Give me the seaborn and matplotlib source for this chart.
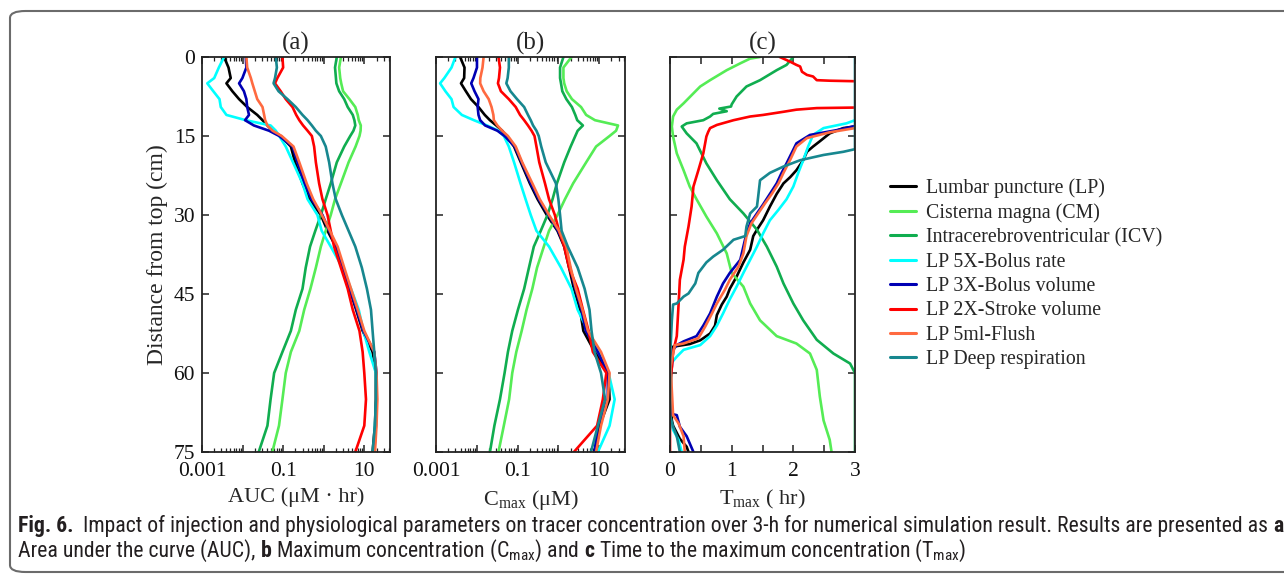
import numpy as np
import pandas as pd
import matplotlib
matplotlib.use("Agg")
import matplotlib.pyplot as plt
import matplotlib.ticker as mticker
from matplotlib.lines import Line2D
from matplotlib.patches import FancyBboxPatch
from matplotlib import font_manager
import seaborn as sns

# ---------------- data ----------------
series_names = ["Lumbar puncture (LP)", "Cisterna magna (CM)", "Intracerebroventricular (ICV)",
                "LP 5X-Bolus rate", "LP 3X-Bolus volume", "LP 2X-Stroke volume",
                "LP 5ml-Flush", "LP Deep respiration"]
series_colors = ["#000000", "#55ec55", "#10ad4f", "#00ffff", "#0000b4", "#ff0000", "#ff6a40", "#17878f"]

depth_ab = [0, 2, 4, 5, 6.5, 8, 9.5, 11, 12, 13, 14, 15, 17, 20, 24, 27, 30, 33, 36, 40, 44, 48, 52, 56, 60, 65, 70, 75]

auc_lp = [0.0035, 0.0045, 0.0051, 0.004, 0.0056, 0.0082, 0.013, 0.023, 0.031, 0.041, 0.055, 0.087, 0.155, 0.197, 0.30, 0.44, 0.85, 1.24, 1.98, 2.9, 4.3, 6.3, 9.1, 16, 19.3, 19.3, 18.3, 16]
auc_cm = [2.65, 2.4, 2.55, 2.7, 3.0, 4.3, 6.0, 6.9, 7.3, 8.2, 8.1, 7.6, 6.1, 4.1, 2.65, 1.9, 1.49, 1.12, 0.85, 0.64, 0.47, 0.33, 0.25, 0.155, 0.116, 0.096, 0.079, 0.054]
auc_icv = [2.1, 1.9, 2.0, 2.05, 2.4, 3.2, 3.9, 5.2, 5.7, 6.0, 5.4, 4.5, 3.2, 2.1, 1.49, 1.12, 0.85, 0.62, 0.46, 0.36, 0.30, 0.205, 0.155, 0.096, 0.06, 0.049, 0.041, 0.025]
auc_5x = [0.0035, 0.0026, 0.002, 0.00135, 0.0019, 0.0027, 0.0029, 0.004, 0.012, 0.049, 0.066, 0.08, 0.116, 0.175, 0.30, 0.40, 0.70, 0.89, 1.49, 2.9, 4.7, 7.3, 9.5, 13.3, 19.3, 20, 18.3, 17.6]
auc_3x = [0.012, 0.0124, 0.0099, 0.0082, 0.0108, 0.0124, 0.013, 0.0144, 0.0115, 0.019, 0.045, 0.08, 0.17, 0.226, 0.34, 0.5, 0.93, 1.36, 2.05, 3.0, 4.4, 6.5, 9.5, 17.6, 20, 20, 19.3, 17.6]
auc_2x = [0.096, 0.1, 0.072, 0.063, 0.087, 0.116, 0.17, 0.21, 0.25, 0.31, 0.40, 0.51, 0.58, 0.64, 0.77, 0.93, 1.24, 1.49, 1.80, 2.65, 3.9, 5.2, 7.6, 9.1, 10, 11, 10, 6.0]
auc_flush = [0.0124, 0.013, 0.016, 0.0174, 0.02, 0.023, 0.031, 0.034, 0.036, 0.041, 0.055, 0.092, 0.18, 0.25, 0.38, 0.55, 0.9, 1.42, 2.2, 3.2, 4.7, 6.9, 10, 17.6, 20, 21, 20, 18.3]
auc_deep = [0.066, 0.07, 0.063, 0.058, 0.077, 0.128, 0.205, 0.30, 0.40, 0.51, 0.64, 0.85, 1.12, 1.36, 1.64, 1.98, 2.8, 4.1, 6.0, 8.7, 11.6, 14.6, 16, 17.6, 19.3, 19.3, 18.3, 16]

cmax_lp = [0.0039, 0.005, 0.0049, 0.0041, 0.0054, 0.0072, 0.011, 0.0157, 0.021, 0.030, 0.042, 0.053, 0.082, 0.12, 0.2, 0.31, 0.52, 0.95, 1.39, 1.83, 2.4, 3.4, 4.1, 7.8, 17, 18, 10.2, 7.7]
cmax_cm = [2.1, 1.33, 1.33, 1.39, 1.6, 2.15, 3.6, 4.8, 7.9, 29, 26, 18, 8.4, 4.8, 2.3, 1.45, 0.95, 0.59, 0.44, 0.3, 0.23, 0.166, 0.126, 0.093, 0.074, 0.062, 0.046, 0.034]
cmax_icv = [1.33, 1.1, 1.1, 1.16, 1.25, 1.57, 2.15, 2.6, 2.9, 4.0, 2.97, 2.6, 2.0, 1.39, 0.92, 0.72, 0.54, 0.37, 0.25, 0.19, 0.145, 0.102, 0.074, 0.058, 0.048, 0.037, 0.027, 0.021]
cmax_5x = [0.003, 0.0024, 0.0016, 0.00126, 0.0017, 0.0024, 0.0027, 0.0043, 0.0085, 0.0178, 0.034, 0.046, 0.061, 0.082, 0.118, 0.157, 0.21, 0.29, 0.59, 1.16, 2.1, 2.97, 5.3, 9.7, 17, 24, 18, 9.3]
cmax_3x = [0.0101, 0.0101, 0.0083, 0.0073, 0.0088, 0.011, 0.0105, 0.011, 0.0121, 0.016, 0.032, 0.048, 0.085, 0.126, 0.21, 0.33, 0.57, 0.98, 1.46, 1.94, 2.6, 3.7, 4.7, 9.3, 16.3, 16.3, 9.3, 7.7]
cmax_2x = [0.034, 0.037, 0.035, 0.033, 0.039, 0.061, 0.09, 0.115, 0.145, 0.18, 0.22, 0.26, 0.29, 0.34, 0.47, 0.59, 0.82, 1.04, 1.39, 1.83, 2.97, 4.0, 5.5, 7.0, 15, 12.3, 8.9, 2.4]
cmax_flush = [0.0147, 0.0138, 0.0122, 0.0121, 0.0147, 0.0196, 0.023, 0.0255, 0.0262, 0.032, 0.042, 0.058, 0.09, 0.13, 0.23, 0.35, 0.59, 1.04, 1.57, 2.0, 2.7, 3.9, 5.3, 11.1, 18, 16.3, 11.1, 8.4]
cmax_deep = [0.061, 0.061, 0.057, 0.053, 0.067, 0.097, 0.145, 0.18, 0.21, 0.24, 0.29, 0.33, 0.38, 0.49, 0.87, 1.0, 1.1, 1.2, 1.7, 2.97, 4.4, 5.8, 6.5, 7.7, 11.1, 14, 9.3, 6.3]

# Tmax: each series has its own depth samples (curves leave the 0-3 h window)
tmax_lp_depth = [13.2, 13.5, 14.5, 16, 17, 18, 19.6, 21.5, 22.8, 24, 26, 28.4, 31, 32.8, 34, 36.6, 39, 41.7, 44, 45.5, 47, 49, 51, 52.5, 53.8, 54.5, 55, 58, 65, 69, 70, 72.5, 74, 75]
tmax_lp = [3.0, 2.81, 2.59, 2.43, 2.32, 2.22, 2.16, 2.05, 1.95, 1.84, 1.73, 1.62, 1.51, 1.41, 1.35, 1.30, 1.19, 1.08, 0.97, 0.92, 0.84, 0.76, 0.73, 0.65, 0.49, 0.32, 0.05, 0.02, 0.01, 0.03, 0.05, 0.16, 0.27, 0.30]
tmax_cm_depth = [0, 0.3, 1.2, 2.5, 4.4, 5.6, 6.9, 8.8, 10, 11.3, 13.2, 15.1, 18.3, 21.5, 24.6, 27, 30.3, 33.5, 37.3, 41, 43.6, 46.8, 50, 53, 54.4, 56.3, 59.4, 64.5, 69, 72.7, 75]
tmax_cm = [1.46, 1.30, 1.14, 0.92, 0.65, 0.49, 0.38, 0.22, 0.11, 0.05, 0.03, 0.05, 0.11, 0.22, 0.32, 0.43, 0.59, 0.76, 0.92, 1.0, 1.19, 1.30, 1.46, 1.73, 2.05, 2.27, 2.38, 2.43, 2.49, 2.59, 2.62]
tmax_icv_depth = [0, 1.5, 2.5, 4.4, 5.6, 7.5, 9, 9.4, 9.8, 10.3, 10.8, 11.3, 12, 12.6, 13.2, 14.5, 16.4, 20.2, 23.4, 27, 29.7, 32.8, 36, 39.8, 43, 46.8, 50, 53.7, 56.3, 58.2, 60, 75]
tmax_icv = [2.0, 1.89, 1.73, 1.46, 1.24, 1.08, 1.0, 0.99, 0.80, 0.92, 0.70, 0.65, 0.54, 0.27, 0.19, 0.27, 0.43, 0.59, 0.76, 0.97, 1.19, 1.41, 1.57, 1.73, 1.84, 2.0, 2.16, 2.38, 2.65, 2.92, 3.0, 3.0]
tmax_5x_depth = [12, 12.6, 13.5, 14.8, 17, 19.6, 22, 24.6, 27, 29, 31, 33.5, 36, 38.5, 41, 43.6, 46, 48.7, 51, 53, 54.7, 55.6, 56.9, 58, 59.4, 69, 70.8, 72.7, 75]
tmax_5x = [3.0, 2.86, 2.49, 2.32, 2.24, 2.16, 2.08, 2.0, 1.89, 1.76, 1.62, 1.51, 1.41, 1.30, 1.19, 1.08, 0.97, 0.86, 0.76, 0.65, 0.49, 0.22, 0.11, 0.03, 0.0, 0.0, 0.05, 0.14, 0.19]
tmax_3x_depth = [13.1, 13.9, 14.8, 16.4, 18.3, 20.2, 22, 24, 26, 28, 29.7, 31.6, 33.5, 36, 38.5, 41, 43, 45.5, 48.7, 51, 53, 54, 54.7, 55.6, 58.8, 61.3, 67.7, 68, 70.2, 72, 75]
tmax_3x = [3.0, 2.70, 2.27, 2.05, 1.97, 1.89, 1.81, 1.73, 1.62, 1.51, 1.41, 1.30, 1.24, 1.19, 1.14, 0.97, 0.86, 0.76, 0.65, 0.54, 0.43, 0.22, 0.11, 0.05, 0.03, 0.0, 0.0, 0.11, 0.16, 0.27, 0.38]
tmax_2x_depth = [0, 0.9, 1.5, 1.8, 2.8, 3.4, 3.7, 4.4, 4.5, 4.6,
                 9.6, 9.7, 10, 10.4, 11, 11.3, 12, 12.9, 13.5, 14.2, 15.1, 18.3, 21.5, 24.6, 28.4, 32.2, 36, 38.5, 42.3, 46.8, 53, 56, 59, 62, 75]
tmax_2x = [1.78, 1.95, 2.05, 2.11, 2.14, 2.22, 2.32, 2.38, 2.59, 3.0,
           3.0, 2.38, 2.05, 1.84, 1.51, 1.30, 1.03, 0.76, 0.65, 0.62, 0.59, 0.54, 0.46, 0.38, 0.35, 0.30, 0.24, 0.22, 0.16, 0.14, 0.11, 0.05, 0.03, 0.0, 0.0]
tmax_2x_segment = [0] * 10 + [1] * 25
tmax_flush_depth = [13.5, 14.3, 15.4, 17, 19.5, 22, 24, 26, 27.8, 29.7, 31.6, 34, 37.3, 39.8, 42.3, 44.2, 46.8, 48.7, 51.2, 53.4, 54.4, 54.7, 56.3, 58.8, 68, 69.6, 72, 75]
tmax_flush = [3.0, 2.59, 2.22, 2.05, 1.95, 1.84, 1.76, 1.65, 1.54, 1.43, 1.32, 1.24, 1.19, 1.11, 0.97, 0.89, 0.76, 0.68, 0.57, 0.46, 0.22, 0.08, 0.05, 0.01, 0.05, 0.14, 0.22, 0.24]
tmax_deep_depth = [0, 17.5, 18, 18.6, 19.6, 20.8, 22, 23.4, 26.5, 28.4, 29.7, 32.2, 34, 34.7, 36.6, 37.9, 39, 41, 43, 44.9, 45.5, 46.8, 47, 50, 55, 58, 68, 70.2, 72, 75]
tmax_deep = [3.0, 3.0, 2.81, 2.49, 2.11, 1.84, 1.62, 1.46, 1.43, 1.41, 1.30, 1.24, 1.22, 1.03, 0.86, 0.70, 0.59, 0.46, 0.41, 0.30, 0.22, 0.11, 0.05, 0.03, 0.01, 0.0, 0.0, 0.05, 0.11, 0.16]

panel_titles = ["(a)", "(b)", "(c)"]
y_ticks = [0, 15, 30, 45, 60, 75]
log_tick_labels = ["0.001", "", "0.1", "", "10"]
lin_tick_labels = ["0", "", "1", "", "2", "", "3"]
x_labels = ["AUC (\u03bcM \u00b7 hr)", "C$_\\mathregular{max}$ (\u03bcM)", "T$_\\mathregular{max}$ ( hr)"]
y_label = "Distance from top (cm)"

# caption pieces: (text, bold?)
caption_line1 = [("Fig. 6.", True),
                 ("  Impact of injection and physiological parameters on tracer concentration over 3-h "
                  "for numerical simulation result. Results are presented as ", False),
                 ("a", True)]
caption_line2 = [("Area under the curve (AUC), ", False), ("b", True),
                 (" Maximum concentration (C$_\\mathregular{max}$) and ", False), ("c", True),
                 (" Time to the maximum concentration (T$_\\mathregular{max}$)", False)]

# ---------------- build long tables ----------------
auc_vals = [auc_lp, auc_cm, auc_icv, auc_5x, auc_3x, auc_2x, auc_flush, auc_deep]
cmax_vals = [cmax_lp, cmax_cm, cmax_icv, cmax_5x, cmax_3x, cmax_2x, cmax_flush, cmax_deep]
tmax_vals = [tmax_lp, tmax_cm, tmax_icv, tmax_5x, tmax_3x, tmax_2x, tmax_flush, tmax_deep]
tmax_depths = [tmax_lp_depth, tmax_cm_depth, tmax_icv_depth, tmax_5x_depth, tmax_3x_depth,
               tmax_2x_depth, tmax_flush_depth, tmax_deep_depth]


def long_table(vals_list, depths_list, segs_list=None):
    frames = []
    for i, (name, vals) in enumerate(zip(series_names, vals_list)):
        seg = segs_list[i] if segs_list is not None else [0] * len(vals)
        frames.append(pd.DataFrame({"series": name, "value": vals, "depth": depths_list[i],
                                    "unit": [f"{name}-{s}" for s in seg]}))
    return pd.concat(frames, ignore_index=True)


df_auc = long_table(auc_vals, [depth_ab] * 8)
df_cmax = long_table(cmax_vals, [depth_ab] * 8)
tmax_segs = [[0] * len(v) for v in tmax_vals]
tmax_segs[5] = tmax_2x_segment
df_tmax = long_table(tmax_vals, tmax_depths, tmax_segs)

# ---------------- style ----------------
sns.set_theme(style="ticks")
names = {f.name for f in font_manager.fontManager.ttflist}
cap_font = next((n for n in ["Liberation Sans Narrow", "Roboto Condensed", "Open Sans Condensed",
                             "Liberation Sans"] if n in names), "DejaVu Sans")
plt.rcParams["font.family"] = ["Liberation Serif", "DejaVu Serif"]
plt.rcParams["mathtext.fontset"] = "custom"
plt.rcParams["mathtext.rm"] = cap_font
plt.rcParams["axes.linewidth"] = 1.3
plt.rcParams["axes.edgecolor"] = "#222222"

W, H = 1284, 580
fig = plt.figure(figsize=(W / 100, H / 100), dpi=100)
fig.patch.set_facecolor("white")

# frame around figure (rounded box, right side runs off page)
box = FancyBboxPatch((10 / W, 8 / H), (W + 40) / W, (H - 19) / H,
                     boxstyle="round,pad=0,rounding_size=0.012", transform=fig.transFigure,
                     facecolor="none", edgecolor="#6b6b6b", linewidth=1.5, clip_on=False)
fig.patches.append(box)

palette = dict(zip(series_names, series_colors))

ax_bottom = (H - 452) / H
ax_h = 395 / H
axes_pos = [(202, 188), (436, 189), (670, 185)]
axes = [fig.add_axes([l / W, ax_bottom, w / W, ax_h]) for l, w in axes_pos]

for k, (ax, df) in enumerate(zip(axes, [df_auc, df_cmax, df_tmax])):
    sns.lineplot(data=df, x="value", y="depth", hue="series", units="unit", estimator=None,
                 sort=False, palette=palette, hue_order=series_names, linewidth=1.9,
                 legend=False, ax=ax)
    ax.set_ylim(75, 0)
    ax.set_yticks(y_ticks)
    ax.tick_params(axis="both", which="both", direction="in", top=True, right=True,
                   labelsize=15.5, color="#222222", labelcolor="#111111")
    ax.tick_params(axis="x", pad=7)
    ax.tick_params(axis="y", pad=5)
    ax.tick_params(which="major", length=5, width=1.1)
    ax.tick_params(which="minor", length=3, width=0.9)
    ax.set_title(panel_titles[k], fontsize=18, pad=5)
    ax.set_ylabel("")
    if k < 2:
        ax.set_xscale("log")
        ax.set_xlim(1e-3, 43)
        ax.xaxis.set_major_locator(mticker.FixedLocator([1e-3, 1e-2, 1e-1, 1, 10]))
        ax.xaxis.set_major_formatter(mticker.FixedFormatter(log_tick_labels))
        ax.xaxis.set_minor_locator(mticker.LogLocator(base=10, subs=np.arange(2, 10), numticks=20))
        ax.xaxis.set_minor_formatter(mticker.NullFormatter())
    else:
        ax.set_xlim(0, 3)
        ax.set_xticks(np.arange(0, 3.01, 0.5))
        ax.set_xticklabels(lin_tick_labels)
    if k > 0:
        ax.set_yticklabels([])
    ax.set_xlabel(x_labels[k], fontsize=16, labelpad=5)

axes[0].set_ylabel(y_label, fontsize=17, labelpad=4)

handles = [Line2D([0], [0], color=c, lw=2.2) for c in series_colors]
fig.legend(handles, series_names, loc="upper left", bbox_to_anchor=(882 / W, 1 - 170 / H),
           frameon=False, fontsize=14.3, handlelength=1.3, handletextpad=0.5,
           labelspacing=0.27, borderaxespad=0)

# ---------------- caption (composed from pieces, fitted to reference width) ----------------
renderer = fig.canvas.get_renderer()


def draw_line(pieces, x0_px, y_px, size):
    x = x0_px
    objs = []
    for txt, bold in pieces:
        lead = len(txt) - len(txt.lstrip(" "))
        trail = len(txt) - len(txt.rstrip(" "))
        core = txt.strip(" ")
        sp = fig.text(0, 0, "a a", fontfamily=cap_font, fontsize=size,
                      fontweight="bold" if bold else "normal")
        sp2 = fig.text(0, 0, "aa", fontfamily=cap_font, fontsize=size,
                       fontweight="bold" if bold else "normal")
        space_w = sp.get_window_extent(renderer).width - sp2.get_window_extent(renderer).width
        sp.remove()
        sp2.remove()
        x += lead * space_w
        t = fig.text(x / W, 1 - y_px / H, core, fontfamily=cap_font, fontsize=size,
                     fontweight="bold" if bold else "normal", color="#231f20", va="baseline")
        x += t.get_window_extent(renderer).width + trail * space_w
        objs.append(t)
    return objs, x - x0_px


base = 13.0
objs, width1 = draw_line(caption_line1, 18, 532, base)
for o in objs:
    o.remove()
fs = base * 1262 / width1
draw_line(caption_line1, 18, 532, fs)
draw_line(caption_line2, 18, 557, fs)

fig.savefig("out.png", dpi=100, facecolor="white")
